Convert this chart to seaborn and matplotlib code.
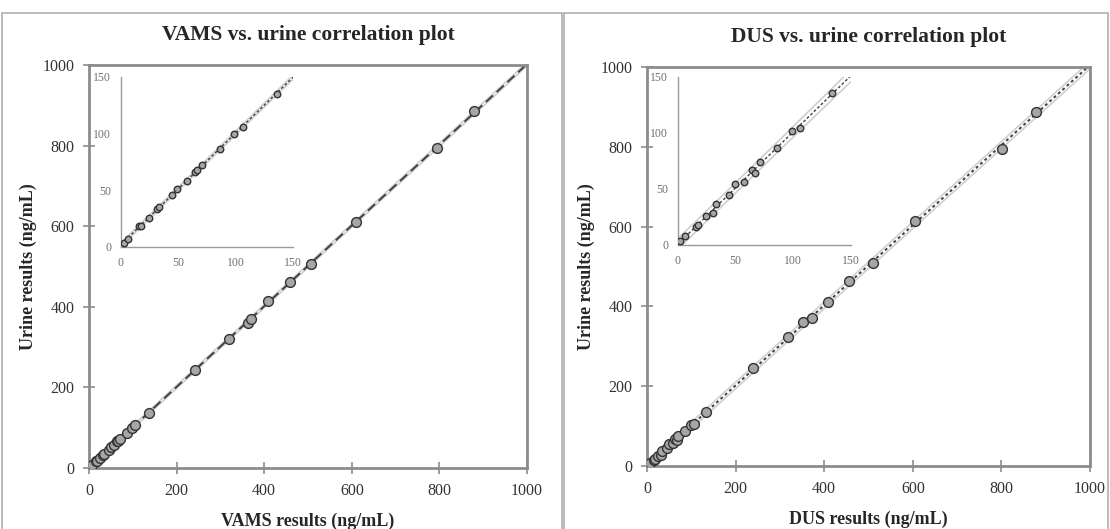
import numpy as np
import matplotlib
matplotlib.use("Agg")
import matplotlib.pyplot as plt
import seaborn as sns
from matplotlib.patches import Rectangle

# --------- DATA -----------------------------------
vams_x = [2.3, 5.8, 15.3, 17.4, 24, 31.3, 33.3, 44.6, 49.2, 57.9, 64.6, 66.6, 70.4, 86.3, 98.5, 106, 136,
          242, 320, 363, 370, 409, 458, 506, 610, 794, 879]
vams_y = [3.8, 7, 18.2, 18.2, 25.9, 33.5, 35.3, 45.6, 51.5, 58.2, 66.2, 67.6, 72.6, 86.8, 100, 105.9, 135.3,
          244, 320, 360, 370, 414, 461, 506, 610, 794, 886]

dus_x = [2, 5.8, 15.9, 17.4, 24, 30.7, 33.3, 44, 49.8, 57.6, 64, 66.9, 71, 85.4, 99, 105.7, 133.5,
         239, 317.6, 352, 372, 408, 457, 509, 604, 802, 877]
dus_y = [3.6, 8, 15.7, 17.8, 26, 28.2, 36.5, 45, 54, 56.4, 66.5, 63.9, 74.2, 87, 101.6, 104, 136,
         245, 322.5, 360, 371, 410, 463, 508, 614, 794, 887]

main_ticks = [0, 200, 400, 600, 800, 1000]
inset_ticks = [0, 50, 100, 150]

sns.set_style("white")
plt.rcParams['font.family'] = ['Liberation Serif', 'DejaVu Serif']

fig = plt.figure(figsize=(11.1, 5.29), dpi=100)

# panel frames
for x0, x1 in [(0.002, 0.506), (0.508, 0.998)]:
    fig.add_artist(Rectangle((x0, -0.02), x1 - x0, 0.995, transform=fig.transFigure,
                             fill=False, edgecolor='#a8a8a8', linewidth=1.1))


def band(x, y, xs):
    x = np.asarray(x, float)
    y = np.asarray(y, float)
    slope, intercept = np.polyfit(x, y, 1)
    n = len(x)
    s = np.sqrt(np.sum((y - (slope * x + intercept)) ** 2) / (n - 2))
    se = s * np.sqrt(1 + 1 / n + (xs - x.mean()) ** 2 / np.sum((x - x.mean()) ** 2))
    yhat = slope * xs + intercept
    return yhat - 2 * se, yhat + 2 * se


def draw(ax, x, y, lim, ticks, ls, msize, inset=False):
    x = np.asarray(x, float)
    y = np.asarray(y, float)
    if inset:
        keep = x <= lim
        x, y = x[keep], y[keep]
    ax.set_xlim(0, lim)
    ax.set_ylim(0, lim)
    xs = np.linspace(0, lim, 200)
    lo, hi = band(x, y, xs)
    ax.plot(xs, lo, color='#cfcfcf', lw=1.2, zorder=1)
    ax.plot(xs, hi, color='#cfcfcf', lw=1.2, zorder=1)
    sns.regplot(x=x, y=y, ax=ax, ci=None, truncate=False,
                scatter_kws={'s': msize, 'color': '#a6a6a6', 'edgecolors': '#333333',
                             'linewidths': 1.0, 'alpha': 1, 'zorder': 3},
                line_kws={'color': '#404040', 'lw': 1.4 if not inset else 1.0, 'linestyle': ls, 'zorder': 2})
    ax.set_xlim(0, lim)
    ax.set_ylim(0, lim)
    ax.set_xticks(ticks)
    ax.set_yticks(ticks)
    if inset:
        for sp in ['top', 'right']:
            ax.spines[sp].set_visible(False)
        for sp in ['left', 'bottom']:
            ax.spines[sp].set_color('#9a9a9a')
            ax.spines[sp].set_linewidth(1.0)
        ax.tick_params(direction='inout', length=6, width=1, color='#9a9a9a',
                       labelsize=8.5, labelcolor='#707070', pad=4)
        ax.patch.set_alpha(0)
    else:
        for sp in ax.spines.values():
            sp.set_color('#8c8c8c')
            sp.set_linewidth(2)
        ax.tick_params(direction='inout', length=9, width=1.2, color='#8c8c8c',
                       labelsize=11.5, labelcolor='#333333', pad=6)
        ax.tick_params(axis='both', which='both', top=False, right=False, bottom=True, left=True)


# --------- VAMS ----------
ax1 = fig.add_axes([0.0802, 0.1153, 0.3946, 0.7618])
draw(ax1, vams_x, vams_y, 1000, main_ticks, (0, (5, 2.5)), 50)
ax1.set_xlabel("VAMS results (ng/mL)", fontsize=13, fontweight='bold', labelpad=10)
ax1.set_ylabel("Urine results (ng/mL)", fontsize=13, fontweight='bold', labelpad=4)
ax1.set_title("VAMS vs. urine correlation plot", fontsize=15.5, fontweight='bold', pad=18)

ins1 = fig.add_axes([0.1090, 0.5331, 0.155, 0.3214])
draw(ins1, vams_x, vams_y, 150, inset_ticks, (0, (2, 1.5)), 22, inset=True)

# --------- DUS ----------
ax2 = fig.add_axes([0.5829, 0.1191, 0.3991, 0.7543])
draw(ax2, dus_x, dus_y, 1000, main_ticks, (0, (1.5, 1.5)), 50)
ax2.set_xlabel("DUS results (ng/mL)", fontsize=13, fontweight='bold', labelpad=10)
ax2.set_ylabel("Urine results (ng/mL)", fontsize=13, fontweight='bold', labelpad=4)
ax2.set_title("DUS vs. urine correlation plot", fontsize=15.5, fontweight='bold', pad=18)

ins2 = fig.add_axes([0.6108, 0.5369, 0.1559, 0.3176])
draw(ins2, dus_x, dus_y, 150, inset_ticks, (0, (2, 1.5)), 22, inset=True)

fig.savefig("out.png", dpi=100)
